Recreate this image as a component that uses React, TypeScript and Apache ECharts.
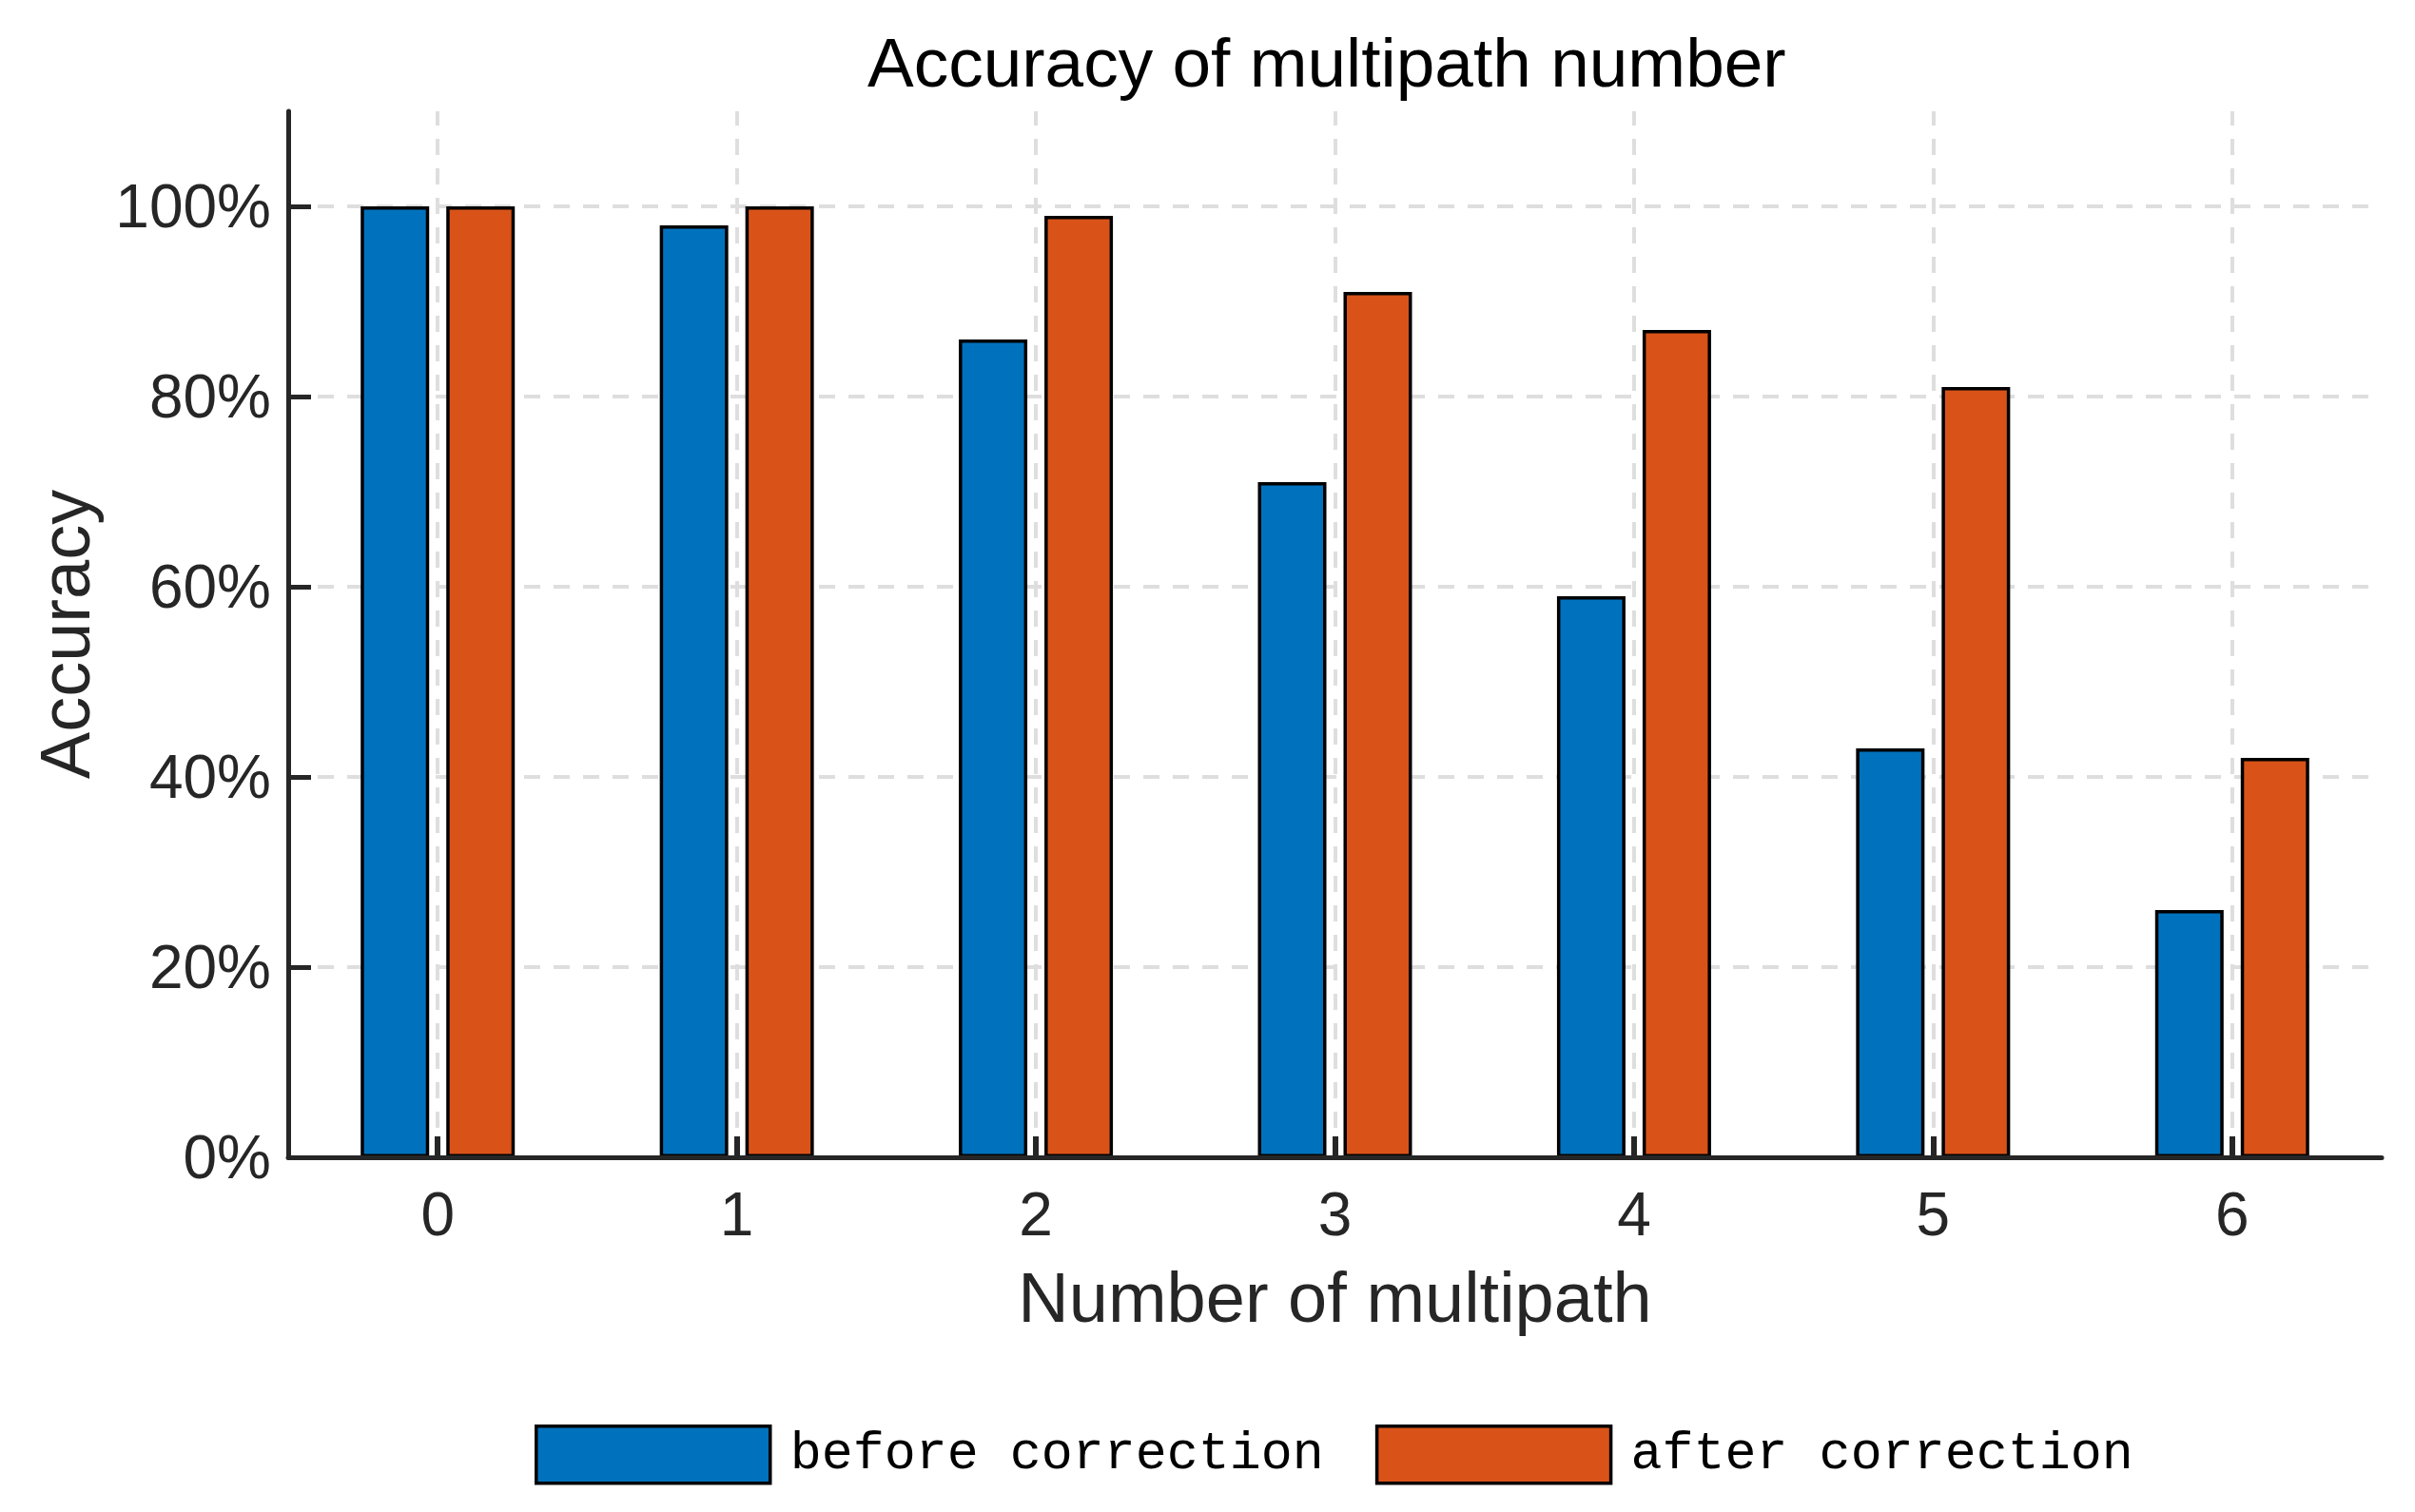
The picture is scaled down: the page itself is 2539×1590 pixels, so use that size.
import React, { useEffect, useRef } from "react";
import * as echarts from "echarts";

const categories = ["0", "1", "2", "3", "4", "5", "6"];
const beforeValues = [100, 98, 86, 71, 59, 43, 26];
const afterValues = [100, 100, 99, 91, 87, 81, 42];
const yGridValues = [20, 40, 60, 80, 100];
const yLabelValues = [0, 20, 40, 60, 80, 100];
const seriesNames = ["before correction", "after correction"];

export default function App() {
  const ref = useRef<HTMLDivElement>(null);
  useEffect(() => {
    if (!ref.current) return;
    const chart = echarts.init(ref.current, null, { renderer: "svg" });
    const axisColor = "#262626";
    const gridStyle = { type: [17, 14] as any, color: "#dedede", width: 4 };
    chart.setOption({
      animation: false,
      backgroundColor: "#ffffff",
      title: {
        text: "Accuracy of multipath number",
        left: 912,
        top: 29,
        padding: 0,
        textStyle: { fontFamily: "Liberation Sans", fontSize: 73, fontWeight: "normal", color: "#000" },
      },
      grid: { left: 303, right: 35, top: 117, bottom: 373, containLabel: false },
      legend: {
        data: seriesNames,
        left: 562,
        top: 1498,
        icon: "rect",
        itemWidth: 246,
        itemHeight: 60,
        itemGap: 54,
        padding: 0,
        itemStyle: { borderColor: "#000", borderWidth: 3.5 },
        textStyle: { fontFamily: "Liberation Mono", fontSize: 55, color: "#000", padding: [0, 0, 0, 16] },
      },
      xAxis: {
        type: "category",
        data: categories,
        boundaryGap: true,
        name: "Number of multipath",
        nameLocation: "middle",
        nameGap: 110,
        nameTextStyle: { fontFamily: "Liberation Sans", fontSize: 74, color: axisColor },
        axisLine: { lineStyle: { color: axisColor, width: 5 } },
        axisTick: { show: true, alignWithLabel: true, inside: true, length: 22, lineStyle: { color: axisColor, width: 6 } },
        axisLabel: { fontFamily: "Liberation Sans", fontSize: 64, color: axisColor, margin: 28 },
        splitLine: { show: false },
        z: 4,
      },
      yAxis: {
        type: "value",
        min: 0,
        max: 110,
        interval: 20,
        name: "Accuracy",
        nameLocation: "middle",
        nameGap: 198,
        nameTextStyle: { fontFamily: "Liberation Sans", fontSize: 74, color: axisColor },
        axisLine: { show: true, lineStyle: { color: axisColor, width: 5 } },
        axisTick: { show: true, inside: true, length: 24, customValues: yLabelValues, lineStyle: { color: axisColor, width: 5 } },
        axisLabel: {
          fontFamily: "Liberation Sans",
          fontSize: 64,
          color: axisColor,
          margin: 18,
          customValues: yLabelValues,
          formatter: (v: number) => (v > 100 ? "" : v + "%"),
        },
        splitLine: { show: false },
        z: 4,
      },
      series: [
        {
          name: "grid",
          type: "line",
          data: [],
          z: 1,
          silent: true,
          markLine: {
            silent: true,
            z: 1,
            symbol: "none",
            label: { show: false },
            lineStyle: gridStyle,
            emphasis: { disabled: true },
            data: [
              ...yGridValues.map((v) => ({ yAxis: v })),
              ...categories.map((c) => ({ xAxis: c })),
            ],
          },
        },
        {
          name: seriesNames[0],
          type: "bar",
          data: beforeValues,
          barWidth: 72,
          barGap: "25%",
          z: 3,
          itemStyle: { color: "#0072BD", borderColor: "#000", borderWidth: 3.5 },
        },
        {
          name: seriesNames[1],
          type: "bar",
          data: afterValues,
          barWidth: 72,
          barGap: "25%",
          z: 3,
          itemStyle: { color: "#D95319", borderColor: "#000", borderWidth: 3.5 },
        },
      ],
    });
    return () => chart.dispose();
  }, []);
  return (
    <div
      ref={ref}
      style={{ position: "fixed", left: 0, top: 0, width: 2539, height: 1590, background: "#fff" }}
    />
  );
}
